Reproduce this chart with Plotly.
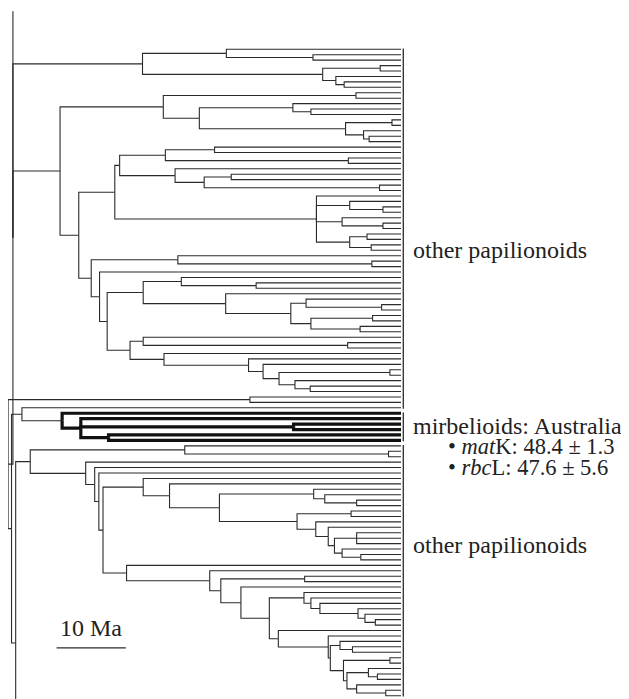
import re
import plotly.graph_objects as go

# ---- Tree data: Newick-like strings, internal node label = node age (Ma); 't' = tip, 's' = lineage continuing off-figure
# '*' marks the highlighted (mirbelioid) clade
clade_A1 = "((t,(t,t)12.7)25.2,((t,t)3.0,(t,(t,t)8.2)9.4)11.3)37.3"
clade_B1 = "((t,t)6.5,((t,(t,t)13.0)15.6,((t,t)1.3,(t,(t,t)4.6)5.4)8.0)29.1)34.3"
clade_C1a = "(((t,t)26.9,(t,t)7.6)34.0,(t,((t,t)24.5,(t,t)3.1)28.4)32.6)40.6"
clade_C1b = "(t,(t,(t,t)2.6)7.4,(t,(t,t)2.6)8.5,((t,t)4.9,(t,t)4.3)7.4)12.2"
clade_C2a = "(t,(t,t)4.2)32.2"
clade_C2b = "((t,(t,t)20.9)31.7,(t,((t,(t,t)2.8)13.7,((t,t)4.1,(t,t)5.9)13.0)15.9)25.3)37.2"
clade_C2c = "((t,(t,t)7.7)37.2,(t,(t,(t,((t,t)1.6,(t,(t,t)13.1)15.3)17.6)19.9)22.0)34.2)39.1"
clade_D = "(t,t)21.8"
clade_mirb = "(t,(t,(t,t)15.5,(t,t)42.2)46.2)48.9*"
clade_E1 = "(t,(t,t)1.8)31.2"
clade_E2 = "((t,(t,(t,t)6.4)11.0)12.6,((t,t)7.2,(t,(t,((t,t,t)6.4,(t,(t,t)5.8)8.5)9.6)10.5)12.3)15.0)26.2"
clade_F1 = "(t,(t,(t,(t,(t,(t,t)3.7)5.2)6.2)11.7)13.0)14.0"
clade_F2 = "(t,(t,((t,(t,t)7.0)8.8,((t,t)1.6,((t,(t,t)3.4)4.7,(t,(t,t)2.2)6.4)7.8)8.3)10.2)10.5)17.7"
clade_E3 = f"(t,(t,((t,t)13.9,(t,({clade_F1},{clade_F2})19.0)23.1)26.0)27.6)39.6"

clade_A2 = (f"({clade_B1},(({clade_C1a},{clade_C1b})41.3,"
            f"({clade_C2a},(t,({clade_C2b},{clade_C2c})42.4)43.5)44.7)46.5)49.2")
clade_N30 = f"({clade_E1},(t,(t,(t,((t,(t,{clade_E2})33.4)37.2,{clade_E3})43.0)43.6)44.2)45.5)53.5"
tree_newick = f"(s,{clade_A1},{clade_A2},({clade_D},((t,{clade_mirb})54.7,({clade_N30},s)55.6)56.2)56.7)56.0"

stub_slots = [-7.0, 142.7]          # tip-slot positions of lineages leaving the figure

group_labels = ["other papilionoids", "mirbelioids: Australia", "other papilionoids"]
group_tips = [(0, 66), (67, 72), (73, 119)]
detail_lines = ["• <i>mat</i>K: 48.4 ± 1.3", "• <i>rbc</i>L: 47.6 ± 5.6"]
scale_bar_ma = 10
scale_label = "10 Ma"


def parse(s):
    pos = 0

    def node():
        nonlocal pos
        ch = s[pos]
        if ch == '(':
            pos += 1
            kids = [node()]
            while s[pos] == ',':
                pos += 1
                kids.append(node())
            pos += 1  # ')'
            m = re.match(r'[\d.]+', s[pos:])
            age = float(m.group())
            pos += len(m.group())
            bold = False
            if pos < len(s) and s[pos] == '*':
                bold = True
                pos += 1
            return {'kids': kids, 'age': age, 'bold': bold}
        pos += 1
        return {'tip': ch == 't', 'stub': ch == 's'}
    return node()


root = parse(tree_newick)
counter = {'tip': 0, 'stub': 0}


def layout(n, parent_age=None, bold=False):
    n['bold'] = bold or n.get('bold', False)
    if 'kids' in n:
        for k in n['kids']:
            layout(k, n['age'], n['bold'])
        n['y'] = (n['kids'][0]['y'] + n['kids'][-1]['y']) / 2
    elif n.get('stub'):
        n['age'] = parent_age
        n['y'] = stub_slots[counter['stub']]
        counter['stub'] += 1
    else:
        n['age'] = 0.0
        n['y'] = counter['tip']
        counter['tip'] += 1


layout(root)

thin_x, thin_y, bold_x, bold_y = [], [], [], []


def collect(n):
    if 'kids' not in n:
        return
    for k in n['kids']:
        xs = [n['age'], n['age'], k['age'], None]
        ys = [n['y'], k['y'], k['y'], None]
        if n['bold']:
            bold_x.extend(xs); bold_y.extend(ys)
        else:
            thin_x.extend(xs); thin_y.extend(ys)
        collect(k)


collect(root)

# pixel calibration of the axes (px per Ma, px per tip slot); page body has an 8px margin
PX_MA = 6.93
TIP0_PX, SLOT_PX = 49.3, 5.432
OFF = 8
PAGE_W, PAGE_H = 629, 699
W, H = PAGE_W - OFF, PAGE_H - OFF
x_range = [(401 - OFF) / PX_MA, (401 - PAGE_W) / PX_MA]
y_range = [(PAGE_H - TIP0_PX) / SLOT_PX, (OFF - TIP0_PX) / SLOT_PX]

fig = go.Figure()
fig.add_trace(go.Scatter(x=thin_x, y=thin_y, mode='lines',
                         line=dict(color='#2b2b2b', width=1.1), hoverinfo='skip'))
fig.add_trace(go.Scatter(x=bold_x, y=bold_y, mode='lines',
                         line=dict(color='#111111', width=3.2), hoverinfo='skip'))

# group bars at the tips
bar_age = -0.33
for (a, b) in group_tips:
    fig.add_trace(go.Scatter(x=[bar_age, bar_age], y=[a - 0.15, b + 0.15], mode='lines',
                             line=dict(color='#2b2b2b', width=1.3), hoverinfo='skip'))

font = dict(family="Liberation Serif, Times New Roman, serif", size=24, color='#222222')
font_detail = dict(family="Liberation Serif, Times New Roman, serif", size=22.5, color='#222222')
label_age = -1.59
label_slots = [36.9, 69.3, 91.2]
for txt, ys in zip(group_labels, label_slots):
    fig.add_annotation(x=label_age, y=ys, text=txt, showarrow=False, borderpad=0,
                       xanchor='left', yanchor='middle', font=font)
for txt, ys in zip(detail_lines, [73.2, 76.9]):
    fig.add_annotation(x=-6.64, y=ys, text=txt, showarrow=False, borderpad=0,
                       xanchor='left', yanchor='middle', font=font_detail)

# scale bar
sb_start = 49.7
sb_slot = 110.2
fig.add_trace(go.Scatter(x=[sb_start, sb_start - scale_bar_ma], y=[sb_slot, sb_slot], mode='lines',
                         line=dict(color='#2b2b2b', width=1.3), hoverinfo='skip'))
fig.add_annotation(x=sb_start - scale_bar_ma / 2, y=106.5, text=scale_label, showarrow=False,
                   xanchor='center', yanchor='middle', font=font)

fig.update_layout(width=W, height=H, margin=dict(l=0, r=0, t=0, b=0),
                  paper_bgcolor='white', plot_bgcolor='white', showlegend=False)
fig.update_xaxes(range=x_range, visible=False)
fig.update_yaxes(range=y_range, visible=False)
fig.write_html("out.html")
